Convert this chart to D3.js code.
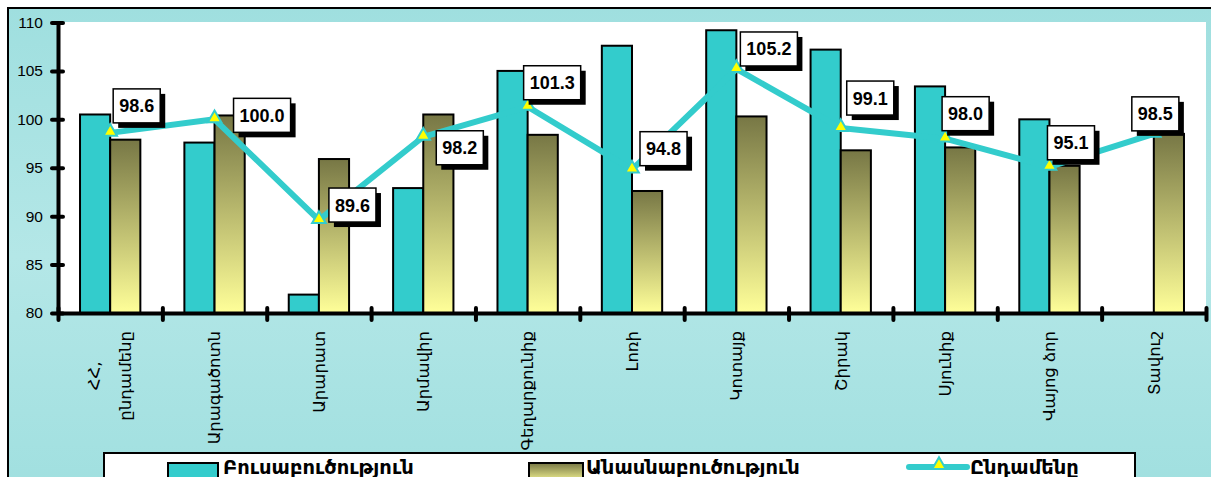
<!DOCTYPE html>
<html>
<head>
<meta charset="utf-8">
<script src="https://cdnjs.cloudflare.com/ajax/libs/d3/7.8.5/d3.min.js"></script>
<style>
body { margin: 0; background: #fff; overflow: hidden; }
svg { display: block; }
</style>
</head>
<body>
<script>
// chart data
var regions = ["ՀՀ, ընդամենը", "Արագածոտն", "Արարատ", "Արմավիր", "Գեղարքունիք", "Լոռի",
    "Կոտայք", "Շիրակ", "Սյունիք", "Վայոց ձոր", "Տավուշ"];
var seriesNames = ["Բուսաբուծություն", "Անասնաբուծություն", "Ընդամենը"];
var cropValues = [100.5, 97.6, 81.9, 92.9, 105.0, 107.6, 109.2, 107.2, 103.4, 100.0, null];
var livestockValues = [97.9, 100.4, 95.9, 100.5, 98.4, 92.6, 100.3, 96.8, 97.1, 95.2, 98.5];
var totalValues = [98.6, 100.0, 89.6, 98.2, 101.3, 94.8, 105.2, 99.1, 98.0, 95.1, 98.5];
var yTicks = [80, 85, 90, 95, 100, 105, 110];

// data label boxes were dragged by hand in the original: left edge / centre offset from the marker
var labelNudge = [[3, -27], [19, -4], [10, -15], [13, 11], [-4, -24], [8, -21],
    [4, -20], [6, -30], [-3, -25], [-2, -24], [-22, -20]];

var W = 1211, H = 477;
var plot = {left: 58, right: 1206, top: 22, bottom: 313};
var cyan = "#33cccc";
var armFont = "'DejaVu Sans', sans-serif";

var svg = d3.select("body").append("svg")
    .attr("width", W)
    .attr("height", H);

var defs = svg.append("defs");
var bg = defs.append("linearGradient").attr("id", "bg")
    .attr("x1", 0).attr("y1", 0).attr("x2", 0).attr("y2", 1);
bg.append("stop").attr("offset", "0%").attr("stop-color", "#9fdfdf");
bg.append("stop").attr("offset", "50%").attr("stop-color", "#b4e7e7");
bg.append("stop").attr("offset", "100%").attr("stop-color", "#9fdfdf");

var olive = defs.append("linearGradient").attr("id", "olive")
    .attr("x1", 0).attr("y1", 0).attr("x2", 0).attr("y2", 1);
olive.append("stop").attr("offset", "0%").attr("stop-color", "#777745");
olive.append("stop").attr("offset", "100%").attr("stop-color", "#ffff99");

// outer frame and plot area
svg.append("rect")
    .attr("x", 8).attr("y", 8)
    .attr("width", W + 20).attr("height", H + 20)
    .attr("fill", "url(#bg)")
    .attr("stroke", "#000").attr("stroke-width", 2);
svg.append("rect")
    .attr("x", plot.left).attr("y", plot.top)
    .attr("width", plot.right - plot.left).attr("height", plot.bottom - plot.top)
    .attr("fill", "#fff");

// scales
var x0 = d3.scaleBand()
    .domain(regions)
    .range([plot.left, plot.right])
    .padding(0);
var x1 = d3.scaleBand()
    .domain([0, 1])
    .range([0, x0.bandwidth()])
    .paddingInner(0)
    .paddingOuter(0.73);
var xEdge = d3.scaleLinear()
    .domain([0, regions.length])
    .range([plot.left, plot.right]);
var y = d3.scaleLinear()
    .domain([80, 110])
    .range([plot.bottom, plot.top + 0.5]);

// bars
var barData = [];
regions.forEach(function(r, i) {
    barData.push({region: r, s: 0, v: cropValues[i]});
    barData.push({region: r, s: 1, v: livestockValues[i]});
});
svg.append("g").selectAll("rect")
    .data(barData.filter(function(d) { return d.v != null && d.v > 80; }))
    .enter().append("rect")
    .attr("x", function(d) { return x0(d.region) + x1(d.s); })
    .attr("y", function(d) { return y(d.v); })
    .attr("width", x1.bandwidth())
    .attr("height", function(d) { return y(80) - y(d.v); })
    .attr("fill", function(d) { return d.s == 0 ? cyan : "url(#olive)"; })
    .attr("stroke", "#000")
    .attr("stroke-width", 2);

// y axis
var yAxis = svg.append("g")
    .attr("transform", "translate(" + plot.left + ",0)")
    .call(d3.axisLeft(y).tickValues(yTicks).tickSizeOuter(0).tickSizeInner(7));
yAxis.select(".domain").attr("stroke-width", 4);
yAxis.selectAll(".tick line")
    .attr("x1", 5).attr("x2", -6)
    .attr("stroke-width", 4).attr("stroke-linecap", "round");
yAxis.selectAll(".tick text")
    .attr("x", -15)
    .style("font-family", "'Liberation Sans', Arial, sans-serif")
    .style("font-size", "15.5px")
    .attr("fill", "#000");

// x axis, ticks sit between the categories
var xAxis = svg.append("g")
    .attr("transform", "translate(0," + plot.bottom + ")")
    .call(d3.axisBottom(xEdge).tickValues(d3.range(0, regions.length + 1)).tickFormat("").tickSizeOuter(0));
xAxis.select(".domain").attr("stroke-width", 4);
xAxis.selectAll(".tick line")
    .attr("y1", -5).attr("y2", 7)
    .attr("stroke-width", 4).attr("stroke-linecap", "round");

// category labels, rotated
var catSize = "16.5px";
var catLabels = svg.append("g").selectAll("g")
    .data(regions)
    .enter().append("g")
    .attr("transform", function(d) { return "translate(" + (x0(d) + x0.bandwidth() / 2) + ",331) rotate(-90)"; });
catLabels.each(function(d) {
    var g = d3.select(this);
    var lines = d.split(/(?<=,)\s/);
    if (lines.length == 1) {
        g.append("text")
            .attr("text-anchor", "end")
            .attr("dy", "0.35em")
            .style("font-family", armFont)
            .style("font-size", catSize)
            .text(d);
    } else {
        var last = g.append("text")
            .attr("text-anchor", "end")
            .attr("y", 15).attr("dy", "0.35em")
            .style("font-family", armFont)
            .style("font-size", catSize)
            .text(lines[1]);
        var len = last.node().getComputedTextLength();
        g.append("text")
            .attr("text-anchor", "middle")
            .attr("x", -len / 2)
            .attr("y", -16).attr("dy", "0.35em")
            .style("font-family", armFont)
            .style("font-size", catSize)
            .text(lines[0]);
    }
});

// total line with triangle markers
var line = d3.line()
    .x(function(d, i) { return x0(regions[i]) + x0.bandwidth() / 2; })
    .y(function(d) { return y(d); });
svg.append("path")
    .datum(totalValues)
    .attr("d", line)
    .attr("fill", "none")
    .attr("stroke", cyan)
    .attr("stroke-width", 6)
    .attr("stroke-linejoin", "round");

var tri = d3.symbol().type(d3.symbolTriangle).size(80);
svg.append("g").selectAll("path")
    .data(totalValues)
    .enter().append("path")
    .attr("d", tri)
    .attr("transform", function(d, i) { return "translate(" + (x0(regions[i]) + x0.bandwidth() / 2) + "," + (y(d) - 1) + ")"; })
    .attr("fill", "#ffff00")
    .attr("stroke", cyan)
    .attr("stroke-width", 2);

// value labels
var labels = svg.append("g").selectAll("g")
    .data(totalValues)
    .enter().append("g")
    .attr("transform", function(d, i) {
        var cx = x0(regions[i]) + x0.bandwidth() / 2;
        return "translate(" + (cx + labelNudge[i][0]) + "," + (y(d) + labelNudge[i][1]) + ")";
    });
labels.each(function(d) {
    var g = d3.select(this);
    var shadow = g.append("rect").attr("fill", "#000");
    var box = g.append("rect").attr("fill", "#fff").attr("stroke", "#000").attr("stroke-width", 1.5);
    var t = g.append("text")
        .attr("x", 6).attr("dy", "0.36em")
        .style("font-family", "'Liberation Sans', Arial, sans-serif")
        .style("font-size", "18px")
        .style("font-weight", "bold")
        .text(d3.format(".1f")(d));
    var w = t.node().getComputedTextLength() + 12;
    box.attr("x", 0).attr("y", -17).attr("width", w).attr("height", 34);
    shadow.attr("x", 5).attr("y", -12).attr("width", w).attr("height", 34);
});

// legend (cut by the bottom edge, as in the original)
var legend = svg.append("g");
legend.append("rect")
    .attr("x", 104).attr("y", 453)
    .attr("width", 1031).attr("height", 60)
    .attr("fill", "#fff")
    .attr("stroke", "#000").attr("stroke-width", 2);
var legendX = [168, 529, 909];
legend.append("rect")
    .attr("x", legendX[0]).attr("y", 463).attr("width", 50).attr("height", 20)
    .attr("fill", cyan).attr("stroke", "#000").attr("stroke-width", 2);
legend.append("rect")
    .attr("x", legendX[1]).attr("y", 463).attr("width", 54).attr("height", 20)
    .attr("fill", "url(#olive)").attr("stroke", "#000").attr("stroke-width", 2);
legend.append("line")
    .attr("x1", legendX[2]).attr("x2", legendX[2] + 58)
    .attr("y1", 467).attr("y2", 467)
    .attr("stroke", cyan).attr("stroke-width", 6).attr("stroke-linecap", "round");
legend.append("path")
    .attr("d", tri)
    .attr("transform", "translate(" + (legendX[2] + 30) + ",465)")
    .attr("fill", "#ffff00").attr("stroke", cyan).attr("stroke-width", 2);
legend.selectAll("text")
    .data(seriesNames)
    .enter().append("text")
    .attr("x", function(d, i) { return legendX[i] + [55, 57, 61][i]; })
    .attr("y", 474)
    .style("font-family", armFont)
    .style("font-size", "19.5px")
    .style("font-weight", "bold")
    .text(function(d) { return d; });
</script>
</body>
</html>
